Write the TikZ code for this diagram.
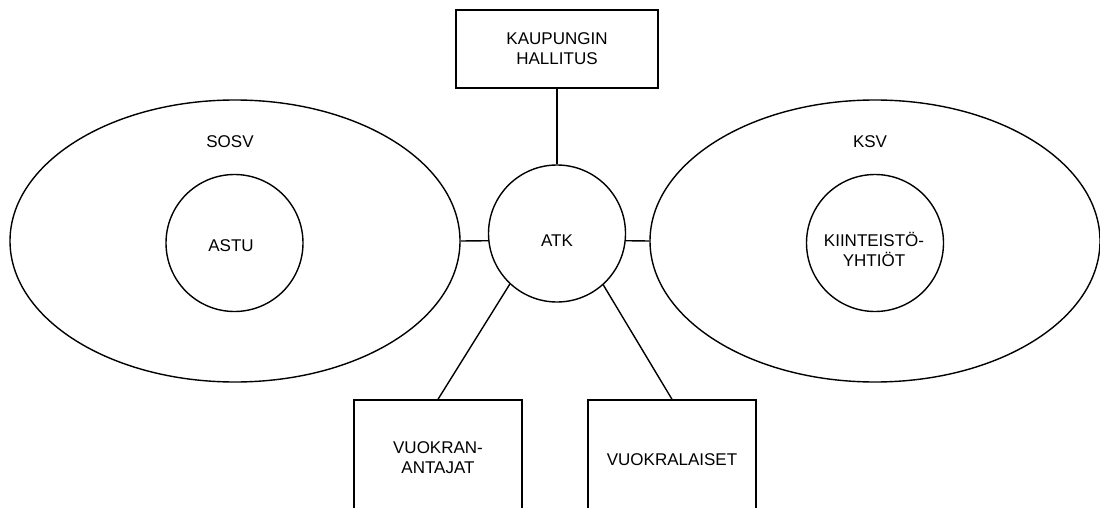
\documentclass[tikz,border=0pt]{standalone}
\usepackage{fontspec}
\setmainfont{Liberation Sans}
\usetikzlibrary{shapes.geometric}
\tikzset{
  every node/.style={font=\fontsize{17}{20}\selectfont, align=center, inner sep=0pt},
  ln/.style={line width=1.4pt, black},
  box/.style={draw, ln},
  circ/.style={draw, ln, circle, minimum size=137pt},
  oval/.style={draw, ln, ellipse, minimum width=450pt, minimum height=282pt},
  lbl/.style={}
}
\begin{document}
\begin{tikzpicture}[x=1pt,y=-1pt]
\useasboundingbox (0,0) rectangle (1100,508);
\clip (0,0) rectangle (1100,508);
\fill[white] (0,0) rectangle (1100,508);
% top box
\node[box, minimum width=202pt, minimum height=78pt] (kh) at (557,49) {KAUPUNGIN\\HALLITUS};
% ellipses
\node[oval] (sosv) at (235,241) {};
\node[oval] (ksv) at (875,241) {};
\node[lbl] (sosvt) at (230,142) {SOSV};
\node[lbl] (ksvt) at (870,142) {KSV};
% circles
\node[circ] (astu) at (234.5,243) {};
\node[lbl] (astut) at (231,246) {ASTU};
\node[circ] (kiin) at (875,243) {};
\node[lbl] (kiint) at (874,249) {KIINTEISTÖ-\\YHTIÖT};
\node[circ] (atk) at (557,233.5) {};
\node[lbl] (atkt) at (557,241) {ATK};
% bottom boxes
\node[box, minimum width=168pt, minimum height=116pt] (vk) at (438,458) {};
\node[lbl] (vkt) at (438,458) {VUOKRAN-\\ANTAJAT};
\node[box, minimum width=168pt, minimum height=116pt] (vl) at (672,458) {};
\node[lbl] (vlt) at (672,460) {VUOKRALAISET};
% connectors
\draw[ln] (kh.south) -- (atk.north);
\draw[ln] (sosv.east) -- (atk.186);
\draw[ln] (atk.354) -- (ksv.west);
\draw[ln] (atk.227) -- (vk.north);
\draw[ln] (atk.312) -- (vl.north);
\end{tikzpicture}
\end{document}
